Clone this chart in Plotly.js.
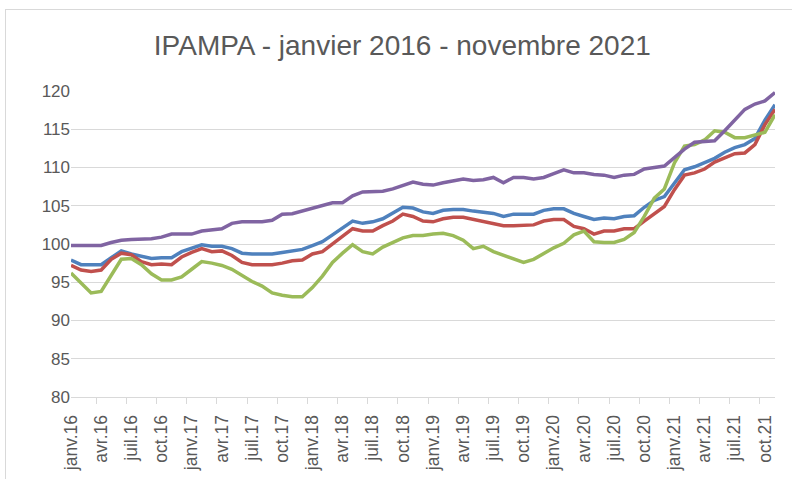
<!DOCTYPE html>
<html>
<head>
<meta charset="utf-8">
<script src="https://cdn.plot.ly/plotly-3.0.1.min.js"></script>
<style>
  html, body { margin: 0; padding: 0; background: #ffffff; overflow: hidden; }
  #wrap { position: relative; width: 792px; height: 479px; overflow: hidden; }
  #frame { position: absolute; left: 5px; top: 9px; width: 820px; height: 520px; border: 1.5px solid #d9d9d9; box-sizing: border-box; pointer-events: none; }
  #chart { position: absolute; left: 0; top: 0; width: 792px; height: 479px; }
</style>
</head>
<body>
<div id="wrap">
  <div id="chart"></div>
  <div id="frame"></div>
</div>
<script>
const chartTitle = "IPAMPA - janvier 2016 - novembre 2021";

const months = [
  "janv.16","févr.16","mars.16","avr.16","mai.16","juin.16","juil.16","août.16","sept.16","oct.16","nov.16","déc.16",
  "janv.17","févr.17","mars.17","avr.17","mai.17","juin.17","juil.17","août.17","sept.17","oct.17","nov.17","déc.17",
  "janv.18","févr.18","mars.18","avr.18","mai.18","juin.18","juil.18","août.18","sept.18","oct.18","nov.18","déc.18",
  "janv.19","févr.19","mars.19","avr.19","mai.19","juin.19","juil.19","août.19","sept.19","oct.19","nov.19","déc.19",
  "janv.20","févr.20","mars.20","avr.20","mai.20","juin.20","juil.20","août.20","sept.20","oct.20","nov.20","déc.20",
  "janv.21","févr.21","mars.21","avr.21","mai.21","juin.21","juil.21","août.21","sept.21","oct.21","nov.21"
];

const seriesBlue = [
  97.9, 97.3, 97.3, 97.3, 98.2, 99.1, 98.7, 98.4, 98.1, 98.2, 98.2,
  99.0, 99.5, 99.9, 99.7, 99.7, 99.4, 98.8, 98.7, 98.7, 98.7,
  98.9, 99.1, 99.3, 99.8, 100.3, 101.2, 102.1, 103.0, 102.7, 102.9,
  103.3, 104.0, 104.8, 104.7, 104.2, 104.0, 104.4, 104.5, 104.5, 104.3,
  104.2, 104.0, 103.6, 103.9, 103.9, 103.9, 104.4, 104.6, 104.6, 104.0,
  103.6, 103.2, 103.4, 103.3, 103.6, 103.7, 104.8, 105.7, 106.2, 108.0,
  109.7, 110.1, 110.6, 111.2, 112.0, 112.6, 113.0, 113.8, 116.2, 118.2
];

const seriesRed = [
  97.2, 96.6, 96.4, 96.6, 98.0, 98.8, 98.6, 97.7, 97.3, 97.4, 97.3,
  98.3, 98.9, 99.4, 99.0, 99.1, 98.5, 97.6, 97.3, 97.3, 97.3,
  97.5, 97.8, 97.9, 98.7, 99.0, 100.0, 101.1, 102.0, 101.7, 101.7,
  102.4, 103.0, 103.9, 103.6, 103.0, 102.9, 103.3, 103.5, 103.5, 103.2,
  103.0, 102.7, 102.4, 102.4, 102.4, 102.5, 103.0, 103.2, 103.2, 102.3,
  102.0, 101.3, 101.7, 101.7, 102.0, 102.0, 103.0, 104.0, 104.9, 107.1,
  109.0, 109.3, 109.8, 110.7, 111.2, 111.8, 111.9, 113.0, 115.6, 117.6
];

const seriesGreen = [
  96.2, 94.9, 93.6, 93.8, 95.8, 98.0, 98.1, 97.3, 96.1, 95.3, 95.3,
  95.7, 96.7, 97.7, 97.5, 97.2, 96.7, 95.9, 95.1, 94.5, 93.6,
  93.3, 93.1, 93.1, 94.3, 95.8, 97.6, 98.8, 99.9, 99.0, 98.7,
  99.6, 100.2, 100.8, 101.1, 101.1, 101.3, 101.4, 101.1, 100.5, 99.4,
  99.7, 99.0, 98.5, 98.0, 97.6, 98.0, 98.8, 99.5, 100.1, 101.2,
  101.7, 100.3, 100.2, 100.2, 100.6, 101.5, 103.6, 106.0, 107.2, 110.6,
  112.8, 113.0, 113.6, 114.8, 114.6, 113.9, 113.9, 114.3, 114.6, 116.9
];

const seriesPurple = [
  99.8, 99.8, 99.8, 99.8, 100.2, 100.5, 100.6, 100.6, 100.7, 100.9, 101.3,
  101.3, 101.3, 101.7, 101.8, 102.0, 102.7, 102.9, 102.9, 102.9, 103.1,
  103.9, 103.95, 104.3, 104.6, 105.0, 105.4, 105.4, 106.3, 106.8, 106.8,
  106.9, 107.2, 107.7, 108.1, 107.8, 107.7, 108.0, 108.3, 108.5, 108.3,
  108.4, 108.7, 108.0, 108.7, 108.7, 108.5, 108.7, 109.2, 109.7, 109.3,
  109.3, 109.1, 109.0, 108.7, 109.0, 109.1, 109.8, 110.0, 110.2, 111.3,
  112.4, 113.3, 113.4, 113.5, 114.8, 116.2, 117.6, 118.3, 118.7, 119.8
];

const yTicks = [80, 85, 90, 95, 100, 105, 110, 115, 120];

function line(y, color, name) {
  return {
    type: "scatter", mode: "lines", x: months, y: y, name: name,
    line: { color: color, width: 3.5 }, hoverinfo: "x+y+name"
  };
}

const data = [
  line(seriesBlue, "#4f81bd", "Série 1"),
  line(seriesRed, "#c0504d", "Série 2"),
  line(seriesGreen, "#9bbb59", "Série 3"),
  line(seriesPurple, "#8064a2", "Série 4")
];

const layout = {
  width: 792, height: 479,
  margin: { l: 71, r: 17, t: 91, b: 82 },
  paper_bgcolor: "rgba(0,0,0,0)",
  plot_bgcolor: "#ffffff",
  showlegend: false,
  font: { family: "Liberation Sans, Arial, sans-serif", color: "#595959" },
  title: {
    text: chartTitle,
    font: { family: "Liberation Sans, Arial, sans-serif", size: 28, color: "#595959" },
    x: 0.508, xanchor: "center", y: 0.905, yanchor: "middle"
  },
  xaxis: {
    type: "category",
    tickmode: "linear", tick0: 0, dtick: 3,
    tickson: "boundaries",
    tickangle: -90,
    ticks: "outside", ticklen: 6, tickcolor: "#d9d9d9", tickwidth: 1,
    showline: true, linecolor: "#d9d9d9", linewidth: 1,
    showgrid: false, zeroline: false,
    tickfont: { size: 17.5, color: "#595959" },
    ticklabelstandoff: 10
  },
  yaxis: {
    range: [80, 120],
    tickmode: "array", tickvals: yTicks,
    showgrid: true, gridcolor: "#d9d9d9", gridwidth: 1,
    zeroline: false, showline: false, ticks: "",
    tickfont: { size: 17, color: "#595959" }
  }
};

Plotly.newPlot("chart", data, layout, { displayModeBar: false, staticPlot: true });
</script>
</body>
</html>
